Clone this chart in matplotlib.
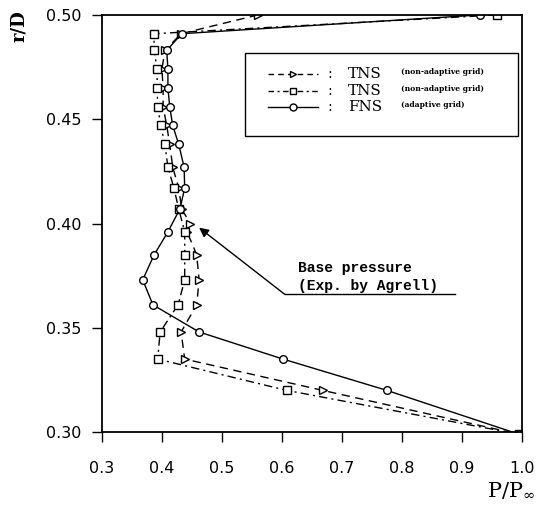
import numpy as np
import matplotlib
matplotlib.use('Agg')
import matplotlib.pyplot as plt
from matplotlib.patches import Rectangle

plt.rcParams['mathtext.fontset'] = 'dejavuserif'

# TNS (non-adaptive grid), triangles, dashed
tri_p = [0.56, 0.432, 0.405, 0.400, 0.402, 0.402, 0.408, 0.413, 0.418, 0.428,
         0.433, 0.447, 0.442, 0.458, 0.462, 0.458, 0.432, 0.438, 0.668, 0.995]
tri_r = [0.500, 0.491, 0.483, 0.474, 0.465, 0.456, 0.447, 0.438, 0.427, 0.417,
         0.407, 0.400, 0.396, 0.385, 0.373, 0.361, 0.348, 0.335, 0.320, 0.299]

# TNS (non-adaptive grid), squares, dash-dot
sq_p = [0.958, 0.387, 0.387, 0.392, 0.392, 0.393, 0.398, 0.405, 0.410, 0.420,
        0.428, 0.438, 0.438, 0.438, 0.427, 0.397, 0.393, 0.608, 0.995]
sq_r = [0.500, 0.491, 0.483, 0.474, 0.465, 0.456, 0.447, 0.438, 0.427, 0.417,
        0.407, 0.396, 0.385, 0.373, 0.361, 0.348, 0.335, 0.320, 0.299]

# FNS (adaptive grid), circles, solid
fns_p = [0.930, 0.433, 0.408, 0.410, 0.410, 0.413, 0.418, 0.428, 0.437, 0.438,
         0.430, 0.410, 0.387, 0.368, 0.385, 0.462, 0.602, 0.775, 0.995]
fns_r = [0.500, 0.491, 0.483, 0.474, 0.465, 0.456, 0.447, 0.438, 0.427, 0.417,
         0.407, 0.396, 0.385, 0.373, 0.361, 0.348, 0.335, 0.320, 0.299]

xticks = [0.3, 0.4, 0.5, 0.6, 0.7, 0.8, 0.9, 1.0]
yticks = [0.30, 0.35, 0.40, 0.45, 0.50]

fig = plt.figure(figsize=(5.51, 5.15), dpi=100)
ax = fig.add_axes([0.185, 0.161, 0.762, 0.810])

mk = dict(markerfacecolor='white', markeredgecolor='black', markersize=5.5,
          markeredgewidth=1.0, color='black', linewidth=1.0)
ax.plot(tri_p, tri_r, linestyle=(0, (6, 4)), marker='>', **mk)
ax.plot(sq_p, sq_r, linestyle=(0, (6, 3, 1.5, 3)), marker='s', **mk)
ax.plot(fns_p, fns_r, linestyle='-', marker='o', **mk)

ax.set_xlim(0.3, 1.0)
ax.set_ylim(0.30, 0.50)
ax.set_xticks(xticks)
ax.set_xticklabels([f'{v:.1f}' for v in xticks])
ax.set_yticks(yticks)
ax.set_yticklabels([f'{v:.2f}' for v in yticks])
ax.tick_params(direction='out', length=7.5, width=1.0, labelsize=11.5)
ax.tick_params(axis='x', pad=13)
ax.tick_params(axis='y', pad=7)
for s in ax.spines.values():
    s.set_linewidth(1.3)

# annotation: base pressure
ax.annotate('', xy=(0.462, 0.398), xytext=(0.605, 0.366),
            arrowprops=dict(arrowstyle='-|>', color='black', lw=1.0,
                            facecolor='white', mutation_scale=14,
                            shrinkA=0, shrinkB=0))
ax.plot([0.605, 0.888], [0.366, 0.366], color='black', lw=1.0)
ax.text(0.627, 0.3785, 'Base pressure', family='Liberation Mono',
        fontsize=10.5, fontweight='bold', va='center', ha='left')
ax.text(0.627, 0.3700, '(Exp. by Agrell)', family='Liberation Mono',
        fontsize=10.5, fontweight='bold', va='center', ha='left')

# legend drawn by hand
ax.add_patch(Rectangle((0.340, 0.710), 0.650, 0.199, transform=ax.transAxes,
                       fill=False, edgecolor='black', lw=1.0))
rows = [0.859, 0.818, 0.779]
styles = [((0, (4, 3)), '>'), ((0, (4, 2.5, 1.5, 2.5)), 's'), ('-', 'o')]
names = ['TNS', 'TNS', 'FNS']
notes = ['(non-adaptive grid)', '(non-adaptive grid)', '(adaptive grid)']
for yy, (ls, m), nm, nt in zip(rows, styles, names, notes):
    ax.plot([0.395, 0.514], [yy, yy], transform=ax.transAxes, color='black',
            lw=1.0, linestyle=ls)
    ax.plot([0.455], [yy], transform=ax.transAxes, marker=m, color='black',
            markerfacecolor='white', markersize=5)
    ax.text(0.543, yy, ':', transform=ax.transAxes, fontsize=10,
            family='DejaVu Serif', va='center', ha='center')
    ax.text(0.586, yy, nm, transform=ax.transAxes, fontsize=11,
            family='DejaVu Serif', va='center', ha='left')
    ax.text(0.712, yy + 0.004, nt, transform=ax.transAxes, fontsize=5.5,
            family='DejaVu Serif', fontweight='bold', va='center', ha='left')

fig.text(0.035, 0.95, 'r/D', rotation=90, family='DejaVu Serif',
         fontsize=13, fontweight='bold', va='center', ha='center')
fig.text(0.928, 0.048, r'P/P$_\infty$', family='DejaVu Serif',
         fontsize=15, va='center', ha='center')

fig.savefig('out.png', dpi=100)
